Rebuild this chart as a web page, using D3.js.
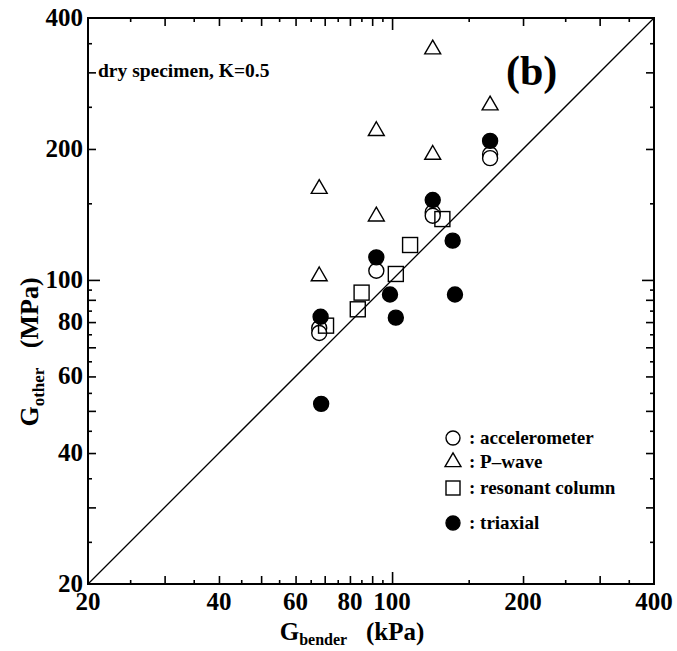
<!DOCTYPE html>
<html>
<head>
<meta charset="utf-8">
<script src="https://cdn.jsdelivr.net/npm/d3@7"></script>
<style>
  body { margin: 0; background: #fff; }
  svg text { font-family: "Liberation Serif", serif; font-weight: bold; fill: #000; }
</style>
</head>
<body>
<script>
// Values: [G_bender (kPa), G_other (MPa)]
const accelerometer = [[68, 77.5], [68, 75.5], [92, 105], [124, 143], [124, 140.5], [168, 194.5], [168, 190.5]];
const pWave = [[68, 162], [68, 102], [92, 220], [92, 140], [124, 339], [124, 194], [168, 252]];
const resonantColumn = [[70.5, 78.5], [83.4, 85.6], [85.1, 93.5], [102, 103.2], [110, 120.3], [130.5, 138]];
const triaxial = [[68.5, 82.3], [68.7, 51.9], [92, 112.7], [98.9, 92.6], [102, 81.9], [124, 152.6], [137.8, 123.1], [139.5, 92.6], [168, 208.7]];

const tickLabels = [20, 40, 60, 80, 100, 200, 400];
const majorTicks = [30, 40, 50, 60, 70, 80, 90, 200, 300];
const minorTicks = [25, 35, 45, 55, 65, 75, 85, 95, 150, 250, 350];
const bigTicks = [100];

const legendItems = [
    { name: "accelerometer", shape: "circle" },
    { name: "P\u2013wave", shape: "triangle" },
    { name: "resonant column", shape: "square" },
    { name: "triaxial", shape: "dot" }
];

const width = 677;
const height = 651;
const marginLeft = 88;
const marginTop = 18;
const plotSize = 566;

const svg = d3.select("body")
    .append("svg")
        .attr("width", width)
        .attr("height", height);

const x = d3.scaleLog()
    .domain([20, 400])
    .range([marginLeft, marginLeft + plotSize]);

const y = d3.scaleLog()
    .domain([20, 400])
    .range([marginTop + plotSize, marginTop]);

const x0 = marginLeft, x1 = marginLeft + plotSize;
const y0 = marginTop + plotSize, y1 = marginTop;

// Ticks on all four sides, pointing inward.
function ticks(values, len) {
    const fmt = () => "";
    svg.append("g").attr("transform", `translate(0,${y0})`)
        .call(d3.axisBottom(x).tickValues(values).tickSize(-len).tickFormat(fmt));
    svg.append("g").attr("transform", `translate(0,${y1})`)
        .call(d3.axisTop(x).tickValues(values).tickSize(-len).tickFormat(fmt));
    svg.append("g").attr("transform", `translate(${x0},0)`)
        .call(d3.axisLeft(y).tickValues(values).tickSize(-len).tickFormat(fmt));
    svg.append("g").attr("transform", `translate(${x1},0)`)
        .call(d3.axisRight(y).tickValues(values).tickSize(-len).tickFormat(fmt));
}
ticks(minorTicks, 4);
ticks(majorTicks, 8);
ticks(bigTicks, 12);
svg.selectAll(".domain").remove();
svg.selectAll(".tick line").attr("stroke", "#000").attr("stroke-width", 1.6);

// Frame
svg.append("rect")
    .attr("x", x0).attr("y", y1)
    .attr("width", plotSize).attr("height", plotSize)
    .attr("fill", "none")
    .attr("stroke", "#000")
    .attr("stroke-width", 2);

// Tick labels
svg.append("g").selectAll("text")
    .data(tickLabels)
    .join("text")
        .attr("x", d => x(d))
        .attr("y", y0 + 26)
        .attr("text-anchor", "middle")
        .style("font-size", "25px")
        .text(d => d);

svg.append("g").selectAll("text")
    .data(tickLabels)
    .join("text")
        .attr("x", x0 - 5)
        .attr("y", d => y(d) + 8)
        .attr("text-anchor", "end")
        .style("font-size", "25px")
        .text(d => d);

// 1:1 line
svg.append("line")
    .attr("x1", x(20)).attr("y1", y(20))
    .attr("x2", x(400)).attr("y2", y(400))
    .attr("stroke", "#000")
    .attr("stroke-width", 1.3);

const tri = d3.symbol().type(d3.symbolTriangle).size(110);

function drawCircles(data, fill) {
    svg.append("g").selectAll("circle")
        .data(data)
        .join("circle")
            .attr("cx", d => x(d[0]))
            .attr("cy", d => y(d[1]))
            .attr("r", 7.5)
            .attr("fill", fill)
            .attr("stroke", "#000")
            .attr("stroke-width", 1.4);
}

drawCircles(accelerometer, "#fff");

svg.append("g").selectAll("path")
    .data(pWave)
    .join("path")
        .attr("transform", d => `translate(${x(d[0])},${y(d[1])})`)
        .attr("d", tri)
        .attr("fill", "#fff")
        .attr("stroke", "#000")
        .attr("stroke-width", 1.4);

svg.append("g").selectAll("rect")
    .data(resonantColumn)
    .join("rect")
        .attr("x", d => x(d[0]) - 7.5)
        .attr("y", d => y(d[1]) - 7.5)
        .attr("width", 15)
        .attr("height", 15)
        .attr("fill", "none")
        .attr("stroke", "#000")
        .attr("stroke-width", 1.4);

drawCircles(triaxial, "#000");

// Annotations
svg.append("text")
    .attr("x", 98).attr("y", 77)
    .style("font-size", "19.5px")
    .text("dry specimen, K=0.5");

svg.append("text")
    .attr("x", 506).attr("y", 85)
    .style("font-size", "42px")
    .text("(b)");

// Legend
const legendX = 453;
const legendY = [438, 462, 488, 523];
const legend = svg.append("g");
legendItems.forEach((item, i) => {
    const ly = legendY[i];
    if (item.shape === "circle" || item.shape === "dot") {
        legend.append("circle")
            .attr("cx", legendX).attr("cy", ly).attr("r", 7)
            .attr("fill", item.shape === "dot" ? "#000" : "#fff")
            .attr("stroke", "#000").attr("stroke-width", 1.4);
    } else if (item.shape === "triangle") {
        legend.append("path")
            .attr("transform", `translate(${legendX},${ly})`)
            .attr("d", tri)
            .attr("fill", "#fff").attr("stroke", "#000").attr("stroke-width", 1.4);
    } else {
        legend.append("rect")
            .attr("x", legendX - 7).attr("y", ly - 7)
            .attr("width", 14).attr("height", 14)
            .attr("fill", "none").attr("stroke", "#000").attr("stroke-width", 1.4);
    }
    legend.append("text")
        .attr("x", legendX + 16).attr("y", ly + 6)
        .style("font-size", "19px")
        .text(": " + item.name);
});

// Axis titles
const xTitle = svg.append("text")
    .attr("x", 352).attr("y", 640)
    .attr("text-anchor", "middle")
    .style("font-size", "25px");
xTitle.append("tspan").text("G");
xTitle.append("tspan").attr("dy", 5).style("font-size", "16px").text("bender");
xTitle.append("tspan").attr("dy", -5).text("\u00a0\u00a0\u00a0(kPa)");

const yTitle = svg.append("text")
    .attr("transform", "translate(38,352) rotate(-90)")
    .attr("text-anchor", "middle")
    .style("font-size", "26px")
    .style("text-rendering", "geometricPrecision");
yTitle.append("tspan").text("G");
yTitle.append("tspan").attr("dy", 6).style("font-size", "17px").text("other");
yTitle.append("tspan").attr("dy", -6).text("\u00a0\u00a0\u00a0(MPa)");
</script>
</body>
</html>
